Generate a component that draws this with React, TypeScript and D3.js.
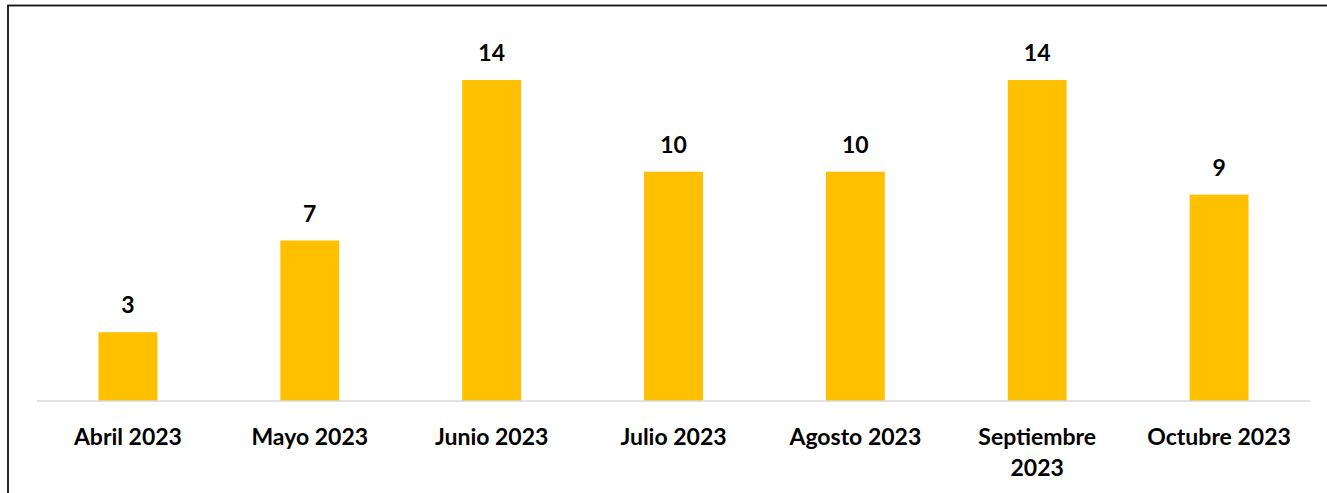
import { useRef, useEffect } from 'react';
import * as d3 from "d3";

const categories = ["Abril 2023", "Mayo 2023", "Junio 2023", "Julio 2023", "Agosto 2023", "Septiembre 2023", "Octubre 2023"];
const values = [3, 7, 14, 10, 10, 14, 9];

const W = 1327;
const H = 493;

const App = () => {
  const ref = useRef<SVGSVGElement>(null);

  useEffect(() => {
    const $svg = d3.select(ref.current);
    $svg.selectAll("*").remove();

    const x = d3.scaleBand<string>().domain(categories).range([37, 1310]).paddingInner(0.676).paddingOuter(0.338);
    const y = d3.scaleLinear().domain([0, 14]).range([401, 80]);

    // outer frame (cut by the window on the right and bottom)
    $svg.append("rect")
      .attr("x", 8).attr("y", 5.5).attr("width", W + 20).attr("height", H + 20)
      .attr("fill", "white").attr("stroke", "#111").attr("stroke-width", 1.8);

    $svg.append("g").selectAll("rect").data(values).join("rect")
      .attr("x", (_, i) => x(categories[i])!)
      .attr("y", d => y(d))
      .attr("width", x.bandwidth())
      .attr("height", d => y(0) - y(d))
      .attr("fill", "#FFC000");

    $svg.append("line")
      .attr("x1", 37).attr("x2", 1310).attr("y1", y(0)).attr("y2", y(0))
      .attr("stroke", "#D9D9D9").attr("stroke-width", 1.5);

    const font = "Lato, 'Noto Sans', sans-serif";

    $svg.append("g").selectAll("text").data(values).join("text")
      .attr("x", (_, i) => x(categories[i])! + x.bandwidth() / 2)
      .attr("y", d => y(d) - 19)
      .attr("text-anchor", "middle")
      .attr("font-family", font).attr("font-weight", 700).attr("font-size", 23)
      .attr("fill", "#000")
      .text(d => d);

    const $labels = $svg.append("g");
    categories.forEach(c => {
      const cx = x(c)! + x.bandwidth() / 2;
      const t = $labels.append("text")
        .attr("x", cx).attr("y", 445)
        .attr("text-anchor", "middle")
        .attr("font-family", font).attr("font-weight", 700).attr("font-size", 23)
        .attr("fill", "#000")
        .text(c);
      const node = t.node() as SVGTextElement;
      if (node.getComputedTextLength() > 160) {
        const words = c.split(" ");
        const last = words.pop();
        t.text(null);
        t.append("tspan").attr("x", cx).attr("dy", 0).text(words.join(" "));
        t.append("tspan").attr("x", cx).attr("dy", 31).text(last!);
      }
    });
  }, []);

  return <svg ref={ref} width={W} height={H} style={{ position: "absolute", left: 0, top: 0, display: "block" }} />;
};

export default App;
